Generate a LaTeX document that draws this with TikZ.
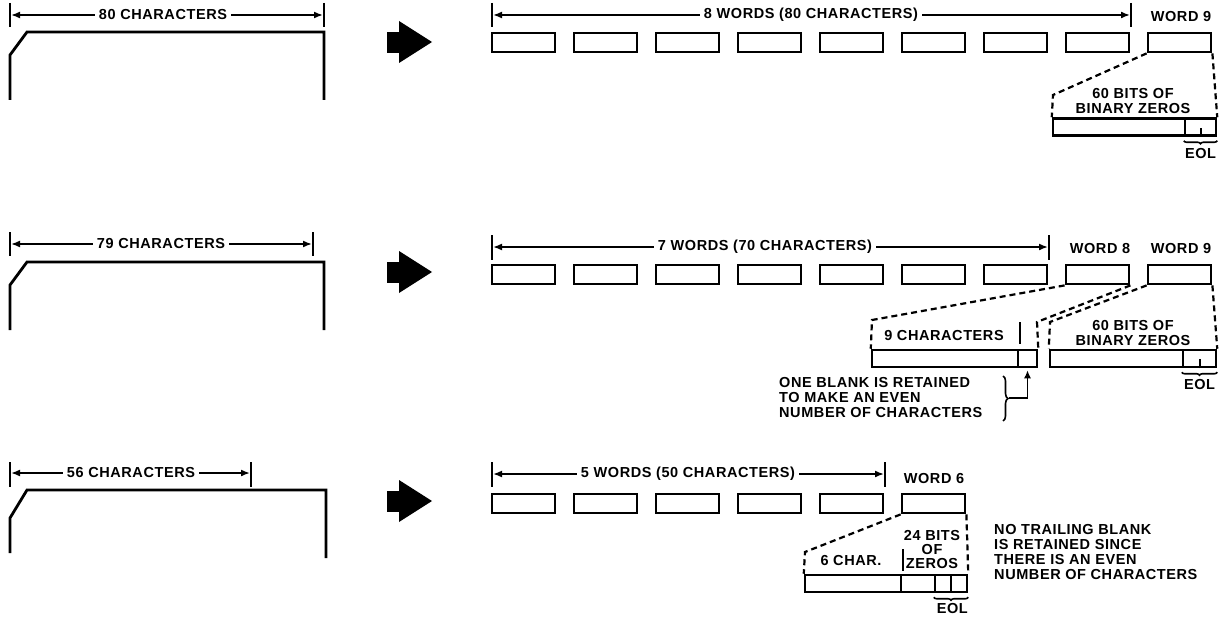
\documentclass[tikz,border=0pt]{standalone}
\usepackage{fontspec}
\setmainfont{Liberation Sans}[LetterSpace=4]
\usetikzlibrary{arrows.meta, positioning, decorations.pathreplacing}

\tikzset{
  lbl/.style={font=\bfseries\fontsize{14.5}{15}\selectfont, inner sep=1pt},
  word/.style={draw, line width=2.8pt, minimum width=63pt, minimum height=19pt, inner sep=0pt},
  cell/.style={draw, line width=2.5pt, minimum height=17pt, inner sep=0pt},
  dimline/.style={line width=1.7pt, -{Latex[length=9pt,width=7pt]}},
  tickbar/.style={line width=2pt},
  card/.style={line width=2.8pt, line join=miter},
  zoomline/.style={line width=2.2pt, dash pattern=on 6pt off 4pt},
  eolbrace/.style={decorate, decoration={brace, mirror, amplitude=3pt}, line width=1.6pt},
}

\begin{document}
\begin{tikzpicture}[x=1pt, y=-1pt]
    \useasboundingbox (0,0) rectangle (1222,623);

    % Big arrows between card and words
    \foreach \y in {42,272,501} {
        \fill (387,\y-10) rectangle (400,\y+11);
        \fill (399,\y-21) -- (432,\y) -- (399,\y+21) -- cycle;
    }

    % ---------- 80 characters ----------
    \draw[card] (10,100) -- (10,55) -- (27,32) -- (324,32) -- (324,100);
    \node[lbl, inner sep=4pt] (c1) at (163,15) {80 CHARACTERS};
    \coordinate (c1l) at (11,15);
    \coordinate (c1r) at (323,15);
    \draw[dimline] (c1.west) -- (c1l);
    \draw[dimline] (c1.east) -- (c1r);
    \draw[tickbar] (10,3) -- (10,27) (324,3) -- (324,27);

    % Words
    \foreach \i in {0,...,8}
        \node[word] (a\i) at (523.5+82*\i,42.5) {};
    \node[lbl, inner sep=4pt] (w1) at (811,15) {8 WORDS (80 CHARACTERS)};
    \coordinate (w1l) at (493,15);
    \coordinate (w1r) at (1130,15);
    \draw[dimline] (w1.west) -- (w1l);
    \draw[dimline] (w1.east) -- (w1r);
    \draw[tickbar] (492,3) -- (492,27) (1131,3) -- (1131,27);
    \node[lbl] (a8t) at (1181,17) {WORD 9};

    % Word 9 opened up
    \node[cell, minimum width=132pt] (a8z) at (1119,127) {};
    \node[cell, minimum width=31pt] (a8e) at (1200.5,127) {};
    \draw[tickbar] (a8e.south) -- ++(0,-9);
    \node[lbl, align=center] (a8b) at (1133,101) {60 BITS OF\\BINARY ZEROS};
    \coordinate (a8k) at (1053,95);
    \draw[zoomline] (a8.south west) -- (a8k) -- (a8z.north west);
    \draw[zoomline] (a8.south east) -- (a8e.north east);
    \draw[eolbrace] ([yshift=-4pt]a8e.south west) -- ([yshift=-4pt]a8e.south east);
    \node[lbl, below=10pt of a8e] (a8l) {EOL};

    % ---------- 79 characters ----------
    \draw[card] (10,330) -- (10,285) -- (27,262) -- (324,262) -- (324,330);
    \node[lbl, inner sep=4pt] (c2) at (161,244) {79 CHARACTERS};
    \coordinate (c2l) at (11,244);
    \coordinate (c2r) at (312,244);
    \draw[dimline] (c2.west) -- (c2l);
    \draw[dimline] (c2.east) -- (c2r);
    \draw[tickbar] (10,232) -- (10,256) (313,232) -- (313,256);

    % Words
    \foreach \i in {0,...,8}
        \node[word] (b\i) at (523.5+82*\i,274.5) {};
    \node[lbl, inner sep=4pt] (w2) at (765,247) {7 WORDS (70 CHARACTERS)};
    \coordinate (w2l) at (493,247);
    \coordinate (w2r) at (1048,247);
    \draw[dimline] (w2.west) -- (w2l);
    \draw[dimline] (w2.east) -- (w2r);
    \draw[tickbar] (492,235) -- (492,260) (1049,235) -- (1049,260);
    \node[lbl] (b7t) at (1100,249) {WORD 8};
    \node[lbl] (b8t) at (1181,249) {WORD 9};

    % Word 8 opened up
    \node[cell, minimum width=146pt] (b7z) at (945,358.5) {};
    \node[cell, minimum width=19pt] (b7e) at (1027.5,358.5) {};
    \draw[tickbar] (1020,322) -- (1020,344);
    \node[lbl] (b7b) at (944,336) {9 CHARACTERS};
    \coordinate (b7k) at (872,320);
    \coordinate (b7m) at (1037,322);
    \draw[zoomline] (b7.south west) -- (b7k) -- (b7z.north west);
    \draw[zoomline] (b7.south east) -- (b7m) -- (b7e.north east);

    % Word 9 opened up
    \node[cell, minimum width=133pt] (b8z) at (1116.5,358.5) {};
    \node[cell, minimum width=33pt] (b8e) at (1199.5,358.5) {};
    \draw[tickbar] (b8e.south) -- ++(0,-9);
    \node[lbl, align=center] (b8b) at (1133,333) {60 BITS OF\\BINARY ZEROS};
    \coordinate (b8k) at (1050,322);
    \draw[zoomline] (b8.south west) -- (b8k) -- (b8z.north west);
    \draw[zoomline] (b8.south east) -- (b8e.north east);
    \draw[eolbrace] ([yshift=-4pt]b8e.south west) -- ([yshift=-4pt]b8e.south east);
    \node[lbl, below=10pt of b8e] (b8l) {EOL};

    % Retained blank
    \node[lbl, align=left, anchor=west] (b7n) at (778,398)
        {ONE BLANK IS RETAINED\\TO MAKE AN EVEN\\NUMBER OF CHARACTERS};
    \draw[decorate, decoration={brace, amplitude=5pt}, line width=1.6pt] (1003,376) -- (1003,421);
    \coordinate (b7p) at (1009,398);
    \draw[line width=1.8pt, -{Latex[length=8pt,width=7pt]}, shorten >=2pt] (b7p) -| (b7e.south);

    % ---------- 56 characters ----------
    \draw[card] (10,553) -- (10,518) -- (27,490) -- (326,490) -- (326,558);
    \node[lbl, inner sep=4pt] (c3) at (131,473) {56 CHARACTERS};
    \coordinate (c3l) at (11,473);
    \coordinate (c3r) at (250,473);
    \draw[dimline] (c3.west) -- (c3l);
    \draw[dimline] (c3.east) -- (c3r);
    \draw[tickbar] (10,462) -- (10,487) (251,462) -- (251,487);

    % Words
    \foreach \i in {0,...,5}
        \node[word] (d\i) at (523.5+82*\i,503.5) {};
    \node[lbl, inner sep=4pt] (w3) at (688,474) {5 WORDS (50 CHARACTERS)};
    \coordinate (w3l) at (493,474);
    \coordinate (w3r) at (884,474);
    \draw[dimline] (w3.west) -- (w3l);
    \draw[dimline] (w3.east) -- (w3r);
    \draw[tickbar] (492,462) -- (492,487) (885,462) -- (885,487);
    \node[lbl] (d5t) at (934,479) {WORD 6};

    % Word 6 opened up
    \node[cell, minimum width=96pt] (d5z) at (853,583.5) {};
    \node[cell, minimum width=34pt] (d5b) at (918,583.5) {};
    \node[cell, minimum width=16pt] (d5e) at (943,583.5) {};
    \node[cell, minimum width=16pt] (d5f) at (959,583.5) {};
    \draw[tickbar] (903,549) -- (903,571);
    \node[lbl] (d5c) at (851,561) {6 CHAR.};
    \node[lbl, align=center, font=\bfseries\fontsize{14.5}{14}\selectfont] (d5x) at (932,550) {24 BITS\\OF\\ZEROS};
    \coordinate (d5k) at (805,552);
    \draw[zoomline] (d5.south west) -- (d5k) -- (d5z.north west);
    \draw[zoomline] (d5.south east) -- (d5f.north east);
    \draw[eolbrace] ([yshift=-4pt]d5e.south west) -- ([yshift=-4pt]d5f.south east);
    \node[lbl, below=9pt of d5e.south east] (d5l) {EOL};

    % No blank retained
    \node[lbl, align=left, anchor=west] (d5n) at (993,552)
        {NO TRAILING BLANK\\IS RETAINED SINCE\\THERE IS AN EVEN\\NUMBER OF CHARACTERS};
\end{tikzpicture}
\end{document}
